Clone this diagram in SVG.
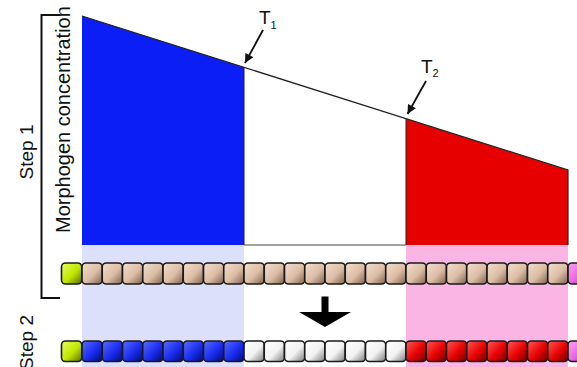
<svg xmlns="http://www.w3.org/2000/svg" width="577" height="367" viewBox="0 0 577 367">
<defs>
<linearGradient id="gTan" x1="0" y1="0" x2="1" y2="1"><stop offset="0" stop-color="#f3dfcf"/><stop offset="0.55" stop-color="#dcbda5"/><stop offset="1" stop-color="#7d6150"/></linearGradient>
<linearGradient id="gBlue" x1="0" y1="0" x2="1" y2="1"><stop offset="0" stop-color="#5a6cff"/><stop offset="0.55" stop-color="#1a2cf0"/><stop offset="1" stop-color="#000a70"/></linearGradient>
<linearGradient id="gRed" x1="0" y1="0" x2="1" y2="1"><stop offset="0" stop-color="#ff5a5a"/><stop offset="0.55" stop-color="#e80000"/><stop offset="1" stop-color="#6a0000"/></linearGradient>
<linearGradient id="gWhite" x1="0" y1="0" x2="1" y2="1"><stop offset="0" stop-color="#ffffff"/><stop offset="0.55" stop-color="#f2f2f2"/><stop offset="1" stop-color="#7a7a7a"/></linearGradient>
<linearGradient id="gGreen" x1="0" y1="0" x2="1" y2="1"><stop offset="0" stop-color="#eaff60"/><stop offset="0.55" stop-color="#bfe600"/><stop offset="1" stop-color="#5a6a00"/></linearGradient>
<linearGradient id="gPink" x1="0" y1="0" x2="1" y2="1"><stop offset="0" stop-color="#ffa0f4"/><stop offset="0.55" stop-color="#e868e0"/><stop offset="1" stop-color="#803080"/></linearGradient>
<marker id="ah" viewBox="0 0 10 10" refX="10" refY="5" markerWidth="10" markerHeight="9" markerUnits="userSpaceOnUse" orient="auto"><path d="M0,0 L10,5 L0,10 z" fill="#111"/></marker>
</defs>
<style>
.lbl{font-family:"Liberation Sans",Arial,sans-serif;fill:#111;}
.cell{stroke:#1a1a1a;stroke-width:1.6;}
.tan{fill:url(#gTan);} .blue{fill:url(#gBlue);} .red{fill:url(#gRed);} .white{fill:url(#gWhite);} .green{fill:url(#gGreen);} .pink{fill:url(#gPink);}
.ptr{stroke:#111;stroke-width:1.8;fill:none;marker-end:url(#ah);}
</style>
<rect width="577" height="367" fill="#ffffff"/>
<g id="bands">
<rect x="82" y="245" width="162" height="122" fill="#dde0fa"/>
<rect x="406" y="245" width="162" height="122" fill="#fbb5e5"/>
</g>
<g id="gradient-profile">
<polygon points="82,16 244,67.3 244,245 82,245" fill="#0a1ef5"/>
<polygon points="406,118.7 568,170 568,245 406,245" fill="#e60000"/>
<line x1="244" y1="67.3" x2="244" y2="245" stroke="#222" stroke-width="1"/>
<line x1="406" y1="118.7" x2="406" y2="245" stroke="#222" stroke-width="1"/>
<line x1="244" y1="245" x2="406" y2="245" stroke="#444" stroke-width="1"/>
<polyline points="82,16 568,170 568,245" fill="none" stroke="#222" stroke-width="1.2"/>
</g>
<g id="bracket"><polyline points="60,15 41.5,15 41.5,298 60,298" fill="none" stroke="#111" stroke-width="2"/></g>
<g id="labels">
<text class="lbl" font-size="20" transform="translate(70,233) rotate(-90)">Morphogen concentration</text>
<text class="lbl" font-size="19" text-anchor="middle" transform="translate(33,152) rotate(-90)">Step 1</text>
<text class="lbl" font-size="19" text-anchor="end" transform="translate(33,315) rotate(-90)">Step 2</text>
</g>
<g id="T1"><text class="lbl" font-size="19" x="259" y="24">T<tspan font-size="11" dy="5">1</tspan></text></g>
<g id="T2"><text class="lbl" font-size="19" x="421" y="73">T<tspan font-size="11" dy="4">2</tspan></text></g>
<g id="connectors">
<line class="ptr" x1="263" y1="30" x2="245" y2="63"/>
<line class="ptr" x1="426" y1="81" x2="407.5" y2="114"/>
<path id="down-arrow" d="M321.5,296.5 L328.5,296.5 L328.5,312 L351,312 L325,327 L299,312 L321.5,312 z" fill="#000"/>
</g>
<g id="row1">
<rect class="cell green" x="61.5" y="263" width="20.25" height="21" rx="4"/>
<rect class="cell tan" x="82" y="263" width="20.25" height="21" rx="4"/>
<rect class="cell tan" x="102.25" y="263" width="20.25" height="21" rx="4"/>
<rect class="cell tan" x="122.5" y="263" width="20.25" height="21" rx="4"/>
<rect class="cell tan" x="142.75" y="263" width="20.25" height="21" rx="4"/>
<rect class="cell tan" x="163" y="263" width="20.25" height="21" rx="4"/>
<rect class="cell tan" x="183.25" y="263" width="20.25" height="21" rx="4"/>
<rect class="cell tan" x="203.5" y="263" width="20.25" height="21" rx="4"/>
<rect class="cell tan" x="223.75" y="263" width="20.25" height="21" rx="4"/>
<rect class="cell tan" x="244" y="263" width="20.25" height="21" rx="4"/>
<rect class="cell tan" x="264.25" y="263" width="20.25" height="21" rx="4"/>
<rect class="cell tan" x="284.5" y="263" width="20.25" height="21" rx="4"/>
<rect class="cell tan" x="304.75" y="263" width="20.25" height="21" rx="4"/>
<rect class="cell tan" x="325" y="263" width="20.25" height="21" rx="4"/>
<rect class="cell tan" x="345.25" y="263" width="20.25" height="21" rx="4"/>
<rect class="cell tan" x="365.5" y="263" width="20.25" height="21" rx="4"/>
<rect class="cell tan" x="385.75" y="263" width="20.25" height="21" rx="4"/>
<rect class="cell tan" x="406" y="263" width="20.25" height="21" rx="4"/>
<rect class="cell tan" x="426.25" y="263" width="20.25" height="21" rx="4"/>
<rect class="cell tan" x="446.5" y="263" width="20.25" height="21" rx="4"/>
<rect class="cell tan" x="466.75" y="263" width="20.25" height="21" rx="4"/>
<rect class="cell tan" x="487" y="263" width="20.25" height="21" rx="4"/>
<rect class="cell tan" x="507.25" y="263" width="20.25" height="21" rx="4"/>
<rect class="cell tan" x="527.5" y="263" width="20.25" height="21" rx="4"/>
<rect class="cell tan" x="547.75" y="263" width="20.25" height="21" rx="4"/>
<rect class="cell pink" x="568" y="263" width="20.25" height="21" rx="4"/>
</g>
<g id="row2">
<rect class="cell green" x="61.5" y="341" width="20.25" height="20.5" rx="4"/>
<rect class="cell blue" x="82" y="341" width="20.25" height="20.5" rx="4"/>
<rect class="cell blue" x="102.25" y="341" width="20.25" height="20.5" rx="4"/>
<rect class="cell blue" x="122.5" y="341" width="20.25" height="20.5" rx="4"/>
<rect class="cell blue" x="142.75" y="341" width="20.25" height="20.5" rx="4"/>
<rect class="cell blue" x="163" y="341" width="20.25" height="20.5" rx="4"/>
<rect class="cell blue" x="183.25" y="341" width="20.25" height="20.5" rx="4"/>
<rect class="cell blue" x="203.5" y="341" width="20.25" height="20.5" rx="4"/>
<rect class="cell blue" x="223.75" y="341" width="20.25" height="20.5" rx="4"/>
<rect class="cell white" x="244" y="341" width="20.25" height="20.5" rx="4"/>
<rect class="cell white" x="264.25" y="341" width="20.25" height="20.5" rx="4"/>
<rect class="cell white" x="284.5" y="341" width="20.25" height="20.5" rx="4"/>
<rect class="cell white" x="304.75" y="341" width="20.25" height="20.5" rx="4"/>
<rect class="cell white" x="325" y="341" width="20.25" height="20.5" rx="4"/>
<rect class="cell white" x="345.25" y="341" width="20.25" height="20.5" rx="4"/>
<rect class="cell white" x="365.5" y="341" width="20.25" height="20.5" rx="4"/>
<rect class="cell white" x="385.75" y="341" width="20.25" height="20.5" rx="4"/>
<rect class="cell red" x="406" y="341" width="20.25" height="20.5" rx="4"/>
<rect class="cell red" x="426.25" y="341" width="20.25" height="20.5" rx="4"/>
<rect class="cell red" x="446.5" y="341" width="20.25" height="20.5" rx="4"/>
<rect class="cell red" x="466.75" y="341" width="20.25" height="20.5" rx="4"/>
<rect class="cell red" x="487" y="341" width="20.25" height="20.5" rx="4"/>
<rect class="cell red" x="507.25" y="341" width="20.25" height="20.5" rx="4"/>
<rect class="cell red" x="527.5" y="341" width="20.25" height="20.5" rx="4"/>
<rect class="cell red" x="547.75" y="341" width="20.25" height="20.5" rx="4"/>
<rect class="cell pink" x="568" y="341" width="20.25" height="20.5" rx="4"/>
</g>
</svg>
